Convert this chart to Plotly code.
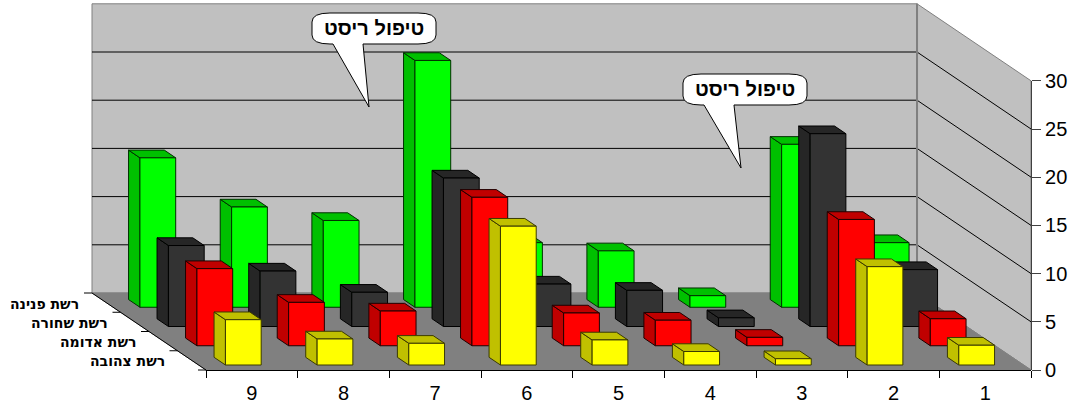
import plotly.graph_objects as go

# Categories run from 9 on the left to 1 on the right.
CATEGORIES = ["9", "8", "7", "6", "5", "4", "3", "2", "1"]
Y_TICKS = [0, 5, 10, 15, 20, 25, 30]
CALLOUT_TEXT = "טיפול ריסט"

# One row of bars per network, front row first.
YELLOW_NET = [4.7, 2.7, 2.25, 14.4, 2.6, 1.4, 0.65, 10.2, 2.05]
RED_NET = [8.0, 4.5, 3.6, 15.4, 3.4, 2.65, 0.87, 13.1, 2.8]
BLACK_NET = [8.4, 5.75, 3.55, 15.4, 4.4, 3.75, 0.9, 20.0, 5.9]
GREEN_NET = [15.5, 10.4, 9.0, 25.6, 6.7, 5.85, 1.2, 16.9, 6.7]

ROWS = [
    ("רשת צהובה", YELLOW_NET, "#FFFF00", "#C0C000", "#3A3A00"),
    ("רשת אדומה", RED_NET, "#FF0000", "#C00000", "#200000"),
    ("רשת שחורה", BLACK_NET, "#333333", "#262626", "#000000"),
    ("רשת פנינה", GREEN_NET, "#00FF00", "#00C000", "#003000"),
]

W, H = 1071, 404
FONT = "Liberation Sans, Arial, sans-serif"

# Oblique projection: one unit of category is 91.67 px, one unit of value 9.64 px.
# A point at full depth shifts left by DEPTH_X categories and up by DEPTH_Y values.
CAT_PX, VAL_PX = 91.67, 9.64
ORIGIN_PX, ORIGIN_PY = 206, 370
DEPTH_X, DEPTH_Y = -114 / CAT_PX, 77 / VAL_PX
N_CAT, N_ROW, TOP = len(CATEGORIES), len(ROWS), Y_TICKS[-1]
BAR_START, BAR_WIDTH = 0.293, 0.39
ROW_START, BAR_DEPTH = 0.26 / N_ROW, 0.10


def project(u, v, d):
    return u + d * DEPTH_X, v + d * DEPTH_Y


def polygon(points):
    xs, ys = zip(*[project(*p) for p in points])
    return list(xs) + [xs[0], None], list(ys) + [ys[0], None]


def face_trace(polys, fill, edge, width=1.0):
    xs, ys = [], []
    for pts in polys:
        a, b = polygon(pts)
        xs += a
        ys += b
    return go.Scatter(x=xs, y=ys, mode="lines", fill="toself", fillcolor=fill,
                      line=dict(color=edge, width=width), hoverinfo="skip", showlegend=False)


def line_trace(segments, color, width=1.0):
    xs, ys = [], []
    for seg in segments:
        for p in seg:
            x, y = project(*p)
            xs.append(x)
            ys.append(y)
        xs.append(None)
        ys.append(None)
    return go.Scatter(x=xs, y=ys, mode="lines", line=dict(color=color, width=width),
                      hoverinfo="skip", showlegend=False)


fig = go.Figure()

# Chart box: floor, back wall and right-hand wall.
fig.add_trace(face_trace([[(0, 0, 1), (N_CAT, 0, 1), (N_CAT, TOP, 1), (0, TOP, 1)]], "#C0C0C0", "#808080"))
fig.add_trace(face_trace([[(N_CAT, 0, 1), (N_CAT, 0, 0), (N_CAT, TOP, 0), (N_CAT, TOP, 1)]], "#C0C0C0", "#808080"))
fig.add_trace(face_trace([[(0, 0, 0), (N_CAT, 0, 0), (N_CAT, 0, 1), (0, 0, 1)]], "#808080", "#808080"))

# Gridlines wrap across both walls.
grid = [[(0, t, 1), (N_CAT, t, 1), (N_CAT, t, 0)] for t in Y_TICKS[1:-1]]
fig.add_trace(line_trace(grid, "#000000", 1.0))
fig.add_trace(line_trace([[(N_CAT, 0, 1), (N_CAT, TOP, 1)]], "#808080", 2.0))

# Depth axis with its tick marks.
depth_ticks = [[(0, 0, r / N_ROW), (-8 / CAT_PX, 0, r / N_ROW)] for r in range(N_ROW + 1)]
fig.add_trace(line_trace(depth_ticks + [[(0, 0, 0), (0, 0, 1)]], "#000000"))

# Bars, drawn from the back row forward.
for s in range(N_ROW - 1, -1, -1):
    _, values, front, shade, edge = ROWS[s]
    d0 = s / N_ROW + ROW_START
    d1 = d0 + BAR_DEPTH
    fronts, sides, tops = [], [], []
    for i, v in enumerate(values):
        u0, u1 = i + BAR_START, i + BAR_START + BAR_WIDTH
        fronts.append([(u0, 0, d0), (u1, 0, d0), (u1, v, d0), (u0, v, d0)])
        sides.append([(u0, 0, d0), (u0, v, d0), (u0, v, d1), (u0, 0, d1)])
        tops.append([(u0, v, d0), (u1, v, d0), (u1, v, d1), (u0, v, d1)])
    fig.add_trace(face_trace(sides, shade, edge))
    fig.add_trace(face_trace(tops, shade, edge))
    fig.add_trace(face_trace(fronts, front, edge))

# Invisible carrier trace for the real category and value axes.
fig.add_trace(go.Scatter(x=CATEGORIES, y=[0] * N_CAT, xaxis="x2", yaxis="y2", mode="markers",
                         marker=dict(opacity=0), hoverinfo="skip", showlegend=False))

# Row names beside the depth axis.
annotations = []
for s, (name, *_rest) in enumerate(ROWS):
    x, y = project(0, 0, (s + 0.5) / N_ROW)
    annotations.append(dict(x=x, y=y, xref="x", yref="y", text=f"<b>{name}</b>", showarrow=False,
                            xanchor="right", yanchor="middle", xshift=-25, yshift=-1,
                            font=dict(family="DejaVu Sans", size=14, color="#000000")))


def px(x):
    return x / W


def py(y):
    return 1 - y / H


def callout_path(left, top, right, bottom, base_l, base_r, tip_x, tip_y):
    r, q = 18, 9
    pts = [
        ("M", left + r, top), ("L", right - r, top),
        ("Q", right, top, right, top + q), ("L", right, bottom - q),
        ("Q", right, bottom, right - r, bottom), ("L", base_r, bottom),
        ("L", tip_x, tip_y), ("L", base_l, bottom), ("L", left + r, bottom),
        ("Q", left, bottom, left, bottom - q), ("L", left, top + q),
        ("Q", left, top, left + r, top),
    ]
    out = []
    for p in pts:
        nums = [px(p[k]) if k % 2 else py(p[k]) for k in range(1, len(p))]
        out.append(p[0] + " ".join(f"{n:.5f}" for n in nums))
    return " ".join(out) + " Z"


CALLOUTS = [
    (312, 13, 436, 44, 333, 363, 369, 107),
    (683, 74, 807, 105, 704, 734, 741, 168),
]
shapes = []
for c in CALLOUTS:
    shapes.append(dict(type="path", xref="paper", yref="paper", path=callout_path(*c),
                       fillcolor="#FFFFFF", line=dict(color="#000000", width=1), layer="above"))
    annotations.append(dict(x=px((c[0] + c[2]) / 2), y=py((c[1] + c[3]) / 2), xref="paper", yref="paper",
                            text=f"<b>{CALLOUT_TEXT}</b>", showarrow=False, xanchor="center", yanchor="middle",
                            font=dict(family=FONT, size=20, color="#000000")))

fig.update_layout(
    width=W, height=H, autosize=False, margin=dict(l=0, r=0, t=0, b=0),
    paper_bgcolor="#FFFFFF", plot_bgcolor="rgba(0,0,0,0)", showlegend=False,
    shapes=shapes, annotations=annotations,
    xaxis=dict(domain=[0, 1], range=[-ORIGIN_PX / CAT_PX, (W - ORIGIN_PX) / CAT_PX], visible=False,
               fixedrange=True, automargin=False),
    yaxis=dict(domain=[0, 1], range=[-(H - ORIGIN_PY) / VAL_PX, ORIGIN_PY / VAL_PX], visible=False,
               fixedrange=True, automargin=False),
    xaxis2=dict(domain=[px(ORIGIN_PX), px(ORIGIN_PX + N_CAT * CAT_PX)], anchor="free", position=py(ORIGIN_PY),
                type="category", categoryorder="array", categoryarray=CATEGORIES,
                range=[-0.5, N_CAT - 0.5], tickson="boundaries", ticks="outside", ticklen=7,
                ticklabelstandoff=5,
                tickcolor="#000000", tickwidth=1, showline=True, linecolor="#000000", linewidth=1,
                showgrid=False, zeroline=False, tickangle=0, fixedrange=True, automargin=False,
                tickfont=dict(family=FONT, size=20, color="#000000")),
    yaxis2=dict(domain=[py(ORIGIN_PY), py(ORIGIN_PY - TOP * VAL_PX)], anchor="free",
                position=px(ORIGIN_PX + N_CAT * CAT_PX), side="right", range=[0, TOP],
                tickmode="array", tickvals=Y_TICKS, ticks="outside", ticklen=9,
                tickcolor="#404040", tickwidth=1, showline=True, linecolor="#404040", linewidth=1,
                showgrid=False, zeroline=False, fixedrange=True, automargin=False,
                tickfont=dict(family=FONT, size=20, color="#000000")),
)

fig.write_html("out.html")
